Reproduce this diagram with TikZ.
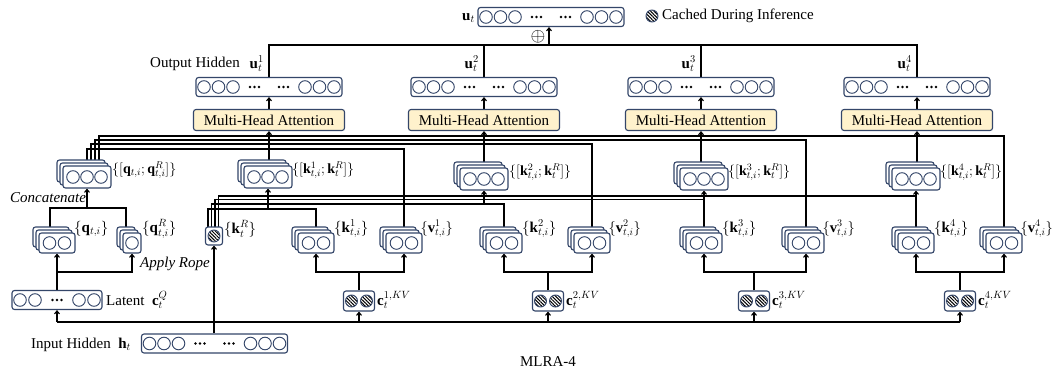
\RequirePackage{fix-cm}
\documentclass[tikz,border=0pt]{standalone}
\usepackage{fontspec}
\setmainfont{Liberation Serif}
\usetikzlibrary{arrows.meta,patterns.meta,backgrounds}
\definecolor{bc}{RGB}{52,70,105}
\definecolor{mhaf}{RGB}{255,242,204}
\tikzset{
 bx/.style={draw=bc, line width=1.1pt, rounded corners=2.5pt, fill=white, inner sep=0pt},
 cir/.style={draw=bc, line width=0.9pt, fill=white},
 hat/.style={draw=bc, line width=0.9pt, pattern={Lines[angle=-45,distance=2.4pt,line width=1pt]}, pattern color=black},
 ln/.style={line width=1.1pt, black},
 arr/.style={ln, -{Straight Barb[length=3pt,width=5pt]}},
 lbl/.style={inner sep=0pt},
 catlbl/.style={inner sep=0pt, anchor=west, font=\fontsize{14}{16}\selectfont},
 mha/.style={bx, fill=mhaf, minimum width=151, minimum height=21},
}
\newcommand\hvec[3]{%
  \node[bx, minimum width=146, minimum height=19] (#1) at (#2,#3) {};
  \foreach \dx in {-65,-50.5,-36,36,50.5,65} \draw[cir] ([xshift=\dx pt]#1.center) circle (6.3);
  \foreach \dx in {-19,-14.5,-10,10,14.5,19} \fill ([xshift=\dx pt]#1.center) circle (1.4);
}
\newcommand\stk[6]{%
  \node[bx, minimum width=#4, minimum height=#5] (#1b) at (#2-6,#3-6) {};
  \node[bx, minimum width=#4, minimum height=#5] at (#2-3,#3-3) {};
  \node[bx, minimum width=#4, minimum height=#5] (#1) at (#2,#3) {};
  \foreach \dx in {#6} \draw[cir] ([xshift=\dx pt]#1.center) circle (6.3);
}
\newcommand\ckv[3]{%
  \node[bx, minimum width=31, minimum height=20] (#1) at (#2,#3) {};
  \foreach \dx in {-7.5,7.5} \draw[hat] ([xshift=\dx pt]#1.center) circle (6);
}
\begin{document}
\begin{tikzpicture}[x=1pt,y=-1pt, every node/.style={font=\fontsize{15}{18}\selectfont}]
\useasboundingbox (0,0) rectangle (1053,372);
% ---------- top output
\hvec{ut}{551}{17}
\node[lbl, anchor=east] (utl) at (475,18) {$\mathbf{u}_t$};
\draw[hat] (652,16) circle (6);
\node[lbl, anchor=west] (leg) at (662,16) {Cached During Inference};
\node[lbl, font=\fontsize{19}{22}\selectfont] (plus) at (538,37) {$\oplus$};
% ---------- output hidden + MHA
\foreach \n/\x in {1/269,2/484,3/701,4/917}{
  \hvec{o\n}{\x}{87}
  \node[mha] (m\n) at (\x,120) {Multi-Head Attention};
  \node[lbl, anchor=east] (ul\n) at (\x-5,64) {$\mathbf{u}_t^{\n}$};
}
\node[lbl, anchor=west] (outl) at (150,64) {Output Hidden};
% ---------- concatenated stacks
\stk{qc}{87}{177}{48}{22}{-14,0,14}
\node[catlbl] (qcl) at (112,170) {$\{[\mathbf{q}_{t,i};\mathbf{q}^R_{t,i}]\}$};
\foreach \n/\x/\y/\lx in {1/268/177/292,2/484/179/509,3/704/179/728,4/916/179/940}{
  \stk{kc\n}{\x}{\y}{48}{22}{-14,0,14}
  \node[catlbl] (kcl\n) at (\lx,\y-7) {$\{[\mathbf{k}^{\n}_{t,i};\mathbf{k}^R_{t}]\}$};
}
% ---------- second row stacks
\stk{q}{57}{243}{36}{20}{-7.5,7.5}
\node[lbl, anchor=west] (ql) at (74,229) {$\{\mathbf{q}_{t,i}\}$};
\stk{qR}{132}{243}{18}{20}{0}
\node[lbl, anchor=west] (qRl) at (142,229) {$\{\mathbf{q}^R_{t,i}\}$};
\node[bx, minimum width=17, minimum height=18] (kR) at (214,236) {};
\draw[hat] (kR.center) circle (6);
\node[lbl, anchor=west] (kRl) at (224,229) {$\{\mathbf{k}^R_{t}\}$};
\foreach \n/\kx/\vx in {1/316/404,2/504/592,3/704/806,4/916/1004}{
  \stk{k\n}{\kx}{243}{36}{20}{-7.5,7.5}
  \node[lbl, anchor=west] (kl\n) at (\kx+18,229) {$\{\mathbf{k}^{\n}_{t,i}\}$};
  \stk{v\n}{\vx}{243}{36}{20}{-7.5,7.5}
  \node[lbl, anchor=west, font=\fontsize{14.5}{17}\selectfont] (vl\n) at (\vx+16.5,229) {$\{\mathbf{v}^{\n}_{t,i}\}$};
}
% ---------- latent row
\node[bx, minimum width=90, minimum height=19] (cQ) at (57,300) {};
\foreach \dx in {-37,-22,22,37} \draw[cir] ([xshift=\dx pt]cQ.center) circle (6.3);
\foreach \dx in {-4.5,0,4.5} \fill ([xshift=\dx pt]cQ.center) circle (1.4);
\node[lbl, anchor=west] (cQl) at (106,300) {Latent\ \ $\mathbf{c}_t^{Q}$};
\foreach \n/\x in {1/359,2/548,3/754,4/960}{
  \ckv{c\n}{\x}{301}
  \node[lbl, anchor=west] (cl\n) at (\x+18,300) {$\mathbf{c}_t^{\n,KV}$};
}
\node[lbl, anchor=west, font=\fontsize{15}{18}\selectfont\itshape] (rope) at (140,264) {Apply Rope};
\node[lbl, anchor=west, font=\fontsize{15}{18}\selectfont\itshape] (cat) at (10,198) {Concatenate};
% ---------- input
\hvec{h}{214.5}{343.5}
\node[lbl, anchor=west] (hl) at (31,345) {Input Hidden\ \ $\mathbf{h}_t$};
\node[lbl] (cap) at (548,362) {MLRA-4};
% ---------- connectors
\begin{pgfonlayer}{background}
\fill[white] (0,0) rectangle (1053,372);
% sum
\draw[ln] (o1.north) -- (269,45) -- (917,45) -- (o4.north);
\draw[ln] (o2.north) -- (484,45);
\draw[ln] (o3.north) -- (701,45);
\draw[arr] (549,45) -- (ut.south -| 549,0);
\foreach \n in {1,2,3,4} \draw[arr] (m\n.north) -- (o\n.south);
% concat k -> MHA
\draw[arr] (kc1.north -| m1.south) -- (m1.south);
\draw[arr] (kc2.north) -- (m2.south);
\draw[arr] (kc3.north -| m3.south) -- (m3.south);
\draw[arr] (kc4.north -| m4.south) -- (m4.south);
% q and v lines to heads
\foreach \xq/\yh/\n in {87/149/1,91/144/2,95/140/3,99/136/4}{
  \draw[ln] (qc.center -| \xq,0) -- (\xq,\yh) -| (v\n.center);
}
% k^R lines
\foreach \xr/\yk/\n in {208/209/1,211.5/204/2,215/199.5/3,218.5/196/4}{
  \draw[ln] (kR.center -| \xr,0) -- (\xr,\yk) -| (k\n.center);
  \draw[arr] (kc\n.south |- 0,\yk) -- (kc\n.south);
}
% concatenate q
\draw[ln] (q.center -| 50,0) -- (50,208) -| (qR.center -| 126,0);
\draw[arr] (87,208) -- (qc.south);
% latent to q
\draw[arr] (cQ.north) -- (q.south);
\draw[arr] (cQ.north |- 0,272) -| (qR.south);
% ckv to k,v
\foreach \n in {1,2,3,4}{
  \draw[arr] (c\n.north) |- (k\n.south |- 0,272) -- (k\n.south);
  \draw[arr] (c\n.north) |- (v\n.south |- 0,272) -- (v\n.south);
}
% input
\draw[arr] (h.north -| kR.south) -- (kR.south);
\draw[ln] (57,322) -- (960,322);
\draw[arr] (cQ.south |- 0,322) -- (cQ.south);
\foreach \n in {1,2,3,4} \draw[arr] (c\n.south |- 0,322) -- (c\n.south);
\end{pgfonlayer}
\end{tikzpicture}
\end{document}
